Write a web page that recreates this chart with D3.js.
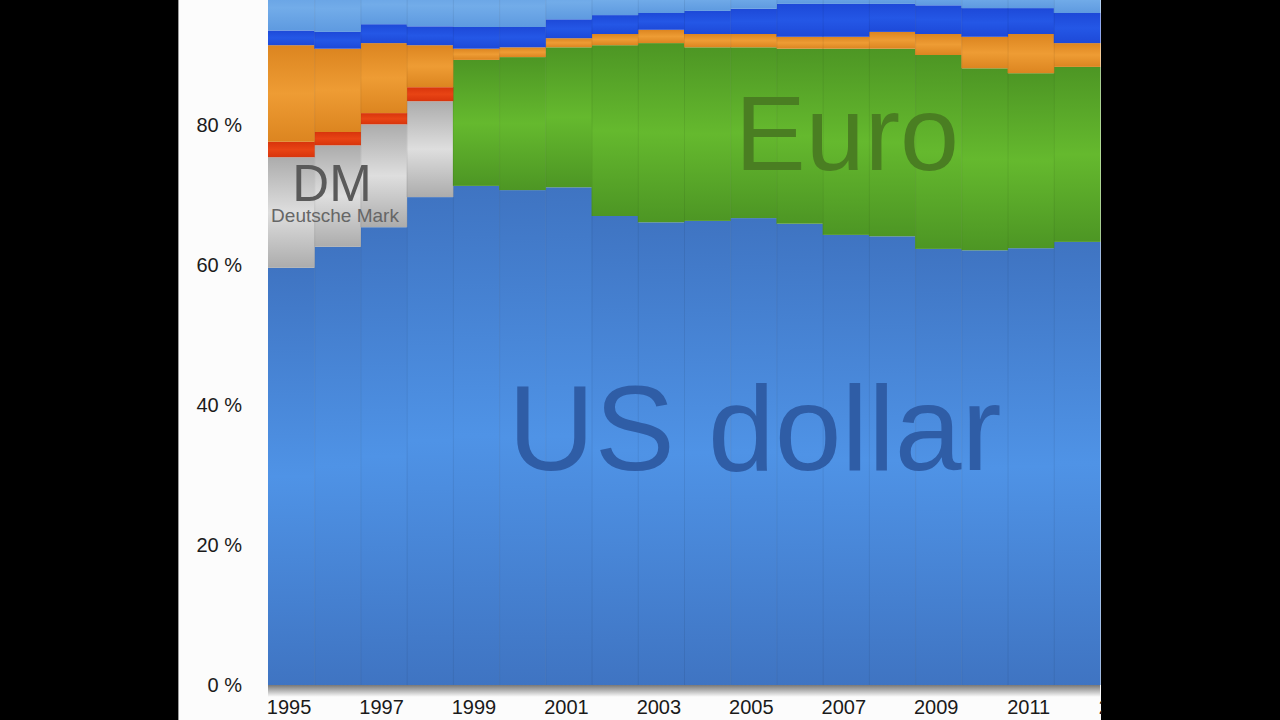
<!DOCTYPE html>
<html>
<head>
<meta charset="utf-8">
<script src="https://cdn.jsdelivr.net/npm/d3@7"></script>
<style>
  html, body { margin: 0; padding: 0; background: #000; }
  svg { display: block; }
</style>
</head>
<body>
<div id="svgContainer"></div>
<script>
const width = 1280;
const height = 720;

// currency shares of reserves, %
const years = [1995, 1996, 1997, 1998, 1999, 2000, 2001, 2002, 2003, 2004, 2005, 2006, 2007, 2008, 2009, 2010, 2011, 2012];
const usDollar = [59.6, 62.6, 65.4, 69.7, 71.3, 70.7, 71.1, 67.0, 66.1, 66.3, 66.7, 65.9, 64.3, 64.1, 62.3, 62.1, 62.4, 63.3];
const deutscheMark = [15.8, 14.5, 14.7, 13.7, 0, 0, 0, 0, 0, 0, 0, 0, 0, 0, 0, 0, 0, 0];
const euro = [0, 0, 0, 0, 18.0, 19.0, 20.0, 24.4, 25.6, 24.8, 24.4, 25.0, 26.6, 26.8, 27.7, 26.0, 25.0, 25.0];
const frenchFranc = [2.2, 1.9, 1.6, 2.0, 0, 0, 0, 0, 0, 0, 0, 0, 0, 0, 0, 0, 0, 0];
const yen = [13.8, 11.9, 10.0, 6.0, 1.6, 1.4, 1.3, 1.6, 1.9, 1.9, 1.9, 1.7, 1.7, 2.4, 3.0, 4.5, 5.6, 3.4];
const pound = [2.1, 2.4, 2.7, 2.7, 3.1, 2.9, 2.7, 2.7, 2.4, 3.3, 3.6, 4.7, 4.7, 4.0, 4.1, 4.1, 3.7, 4.3];
const other = [6.5, 6.7, 5.6, 5.9, 6.0, 6.0, 4.9, 4.3, 4.0, 3.7, 3.4, 2.7, 2.7, 2.7, 2.9, 3.3, 3.3, 4.0];

const yTicks = [0, 20, 40, 60, 80];
const xTickYears = [1995, 1997, 1999, 2001, 2003, 2005, 2007, 2009, 2011, 2013];

const keys = ["usd", "dm", "eur", "frf", "jpy", "gbp", "other"];
const table = years.map((yr, i) => ({
  year: yr,
  usd: usDollar[i],
  dm: deutscheMark[i],
  eur: euro[i],
  frf: frenchFranc[i],
  jpy: yen[i],
  gbp: pound[i],
  other: other[i],
}));

// edge colour, middle colour
const fills = {
  usd: ["#3f74c2", "#4f93e6"],
  dm: ["#acacac", "#dedede"],
  eur: ["#4d9624", "#65b92e"],
  frf: ["#d8340c", "#e84414"],
  jpy: ["#dc8520", "#ee9c34"],
  gbp: ["#1d49d8", "#2457e6"],
  other: ["#5e9ae0", "#72ace9"],
};

const svg = d3.select("#svgContainer")
  .append("svg")
  .attr("width", width)
  .attr("height", height)
  .attr("viewBox", `0 0 ${width} ${height}`);

const defs = svg.append("defs");
keys.forEach((k) => {
  const g = defs.append("linearGradient")
    .attr("id", `grad-${k}`)
    .attr("x1", 0).attr("y1", 0).attr("x2", 0).attr("y2", 1);
  g.append("stop").attr("offset", "0%").attr("stop-color", fills[k][0]);
  g.append("stop").attr("offset", "50%").attr("stop-color", fills[k][1]);
  g.append("stop").attr("offset", "100%").attr("stop-color", fills[k][0]);
});

const shadow = defs.append("linearGradient")
  .attr("id", "shadow")
  .attr("x1", 0).attr("y1", 0).attr("x2", 0).attr("y2", 1);
shadow.append("stop").attr("offset", "0%").attr("stop-color", "#777");
shadow.append("stop").attr("offset", "100%").attr("stop-color", "#fdfdfd");

// white page between the black side bars
svg.append("rect")
  .attr("x", 178).attr("y", 0)
  .attr("width", 923).attr("height", height)
  .attr("fill", "#fcfcfc");
svg.append("line")
  .attr("x1", 178.5).attr("x2", 178.5)
  .attr("y1", 0).attr("y2", height)
  .attr("stroke", "#9a9a9a");

const x = d3.scaleBand()
  .domain(years)
  .range([268, 1100])
  .padding(0);

const y = d3.scaleLinear()
  .domain([0, 100])
  .range([685, -15]);

const stacked = d3.stack().keys(keys)(table);

// shadow under the plot
svg.append("rect")
  .attr("x", 268).attr("y", y(0))
  .attr("width", 832).attr("height", 12)
  .attr("fill", "url(#shadow)");

const plot = svg.append("g");

stacked.forEach((layer) => {
  plot.selectAll(`.rect-${layer.key}`)
    .data(layer.filter((d) => d[1] - d[0] > 0))
    .enter()
    .append("rect")
    .attr("class", `rect-${layer.key}`)
    .attr("x", (d) => x(d.data.year))
    .attr("y", (d) => y(d[1]))
    .attr("width", x.bandwidth() + 0.5)
    .attr("height", (d) => y(d[0]) - y(d[1]))
    .attr("fill", `url(#grad-${layer.key})`);
});

// faint column seams
plot.selectAll(".seam")
  .data(years.slice(1))
  .enter()
  .append("line")
  .attr("x1", (d) => x(d) + 0.5)
  .attr("x2", (d) => x(d) + 0.5)
  .attr("y1", y(100))
  .attr("y2", y(0))
  .attr("stroke", "rgba(0,0,0,0.07)");

// labels inside the chart
const font = "'Liberation Sans', Arial, Helvetica, sans-serif";
svg.append("text")
  .attr("x", 508).attr("y", 470)
  .attr("font-family", font).attr("font-size", 120)
  .attr("fill", "#2f5da6")
  .text("US dollar");

svg.append("text")
  .attr("x", 735).attr("y", 170)
  .attr("font-family", font).attr("font-size", 106)
  .attr("fill", "#4a7e22")
  .text("Euro");

svg.append("text")
  .attr("x", 332).attr("y", 201)
  .attr("text-anchor", "middle")
  .attr("font-family", font).attr("font-size", 51)
  .attr("fill", "#5a5a5a")
  .text("DM");

svg.append("text")
  .attr("x", 335).attr("y", 222)
  .attr("text-anchor", "middle")
  .attr("font-family", font).attr("font-size", 19)
  .attr("fill", "#666")
  .text("Deutsche Mark");

// y axis labels
svg.selectAll(".ytick")
  .data(yTicks)
  .enter()
  .append("text")
  .attr("class", "ytick")
  .attr("x", 242)
  .attr("y", (d) => y(d) + 7)
  .attr("text-anchor", "end")
  .attr("font-family", font).attr("font-size", 20)
  .attr("fill", "#1a1a1a")
  .text((d) => `${d} %`);

// x axis labels (2013 runs under the black edge)
const step = x.step();
svg.selectAll(".xtick")
  .data(xTickYears)
  .enter()
  .append("text")
  .attr("class", "xtick")
  .attr("x", (d) => x(years[0]) + (d - years[0]) * step + step / 2 - 2)
  .attr("y", 714)
  .attr("text-anchor", "middle")
  .attr("font-family", font).attr("font-size", 20)
  .attr("fill", "#1a1a1a")
  .text((d) => d);

// black side bars
svg.append("rect").attr("x", 0).attr("y", 0).attr("width", 178).attr("height", height).attr("fill", "#000");
svg.append("rect").attr("x", 1102).attr("y", 0).attr("width", 178).attr("height", height).attr("fill", "#000");
</script>
</body>
</html>
